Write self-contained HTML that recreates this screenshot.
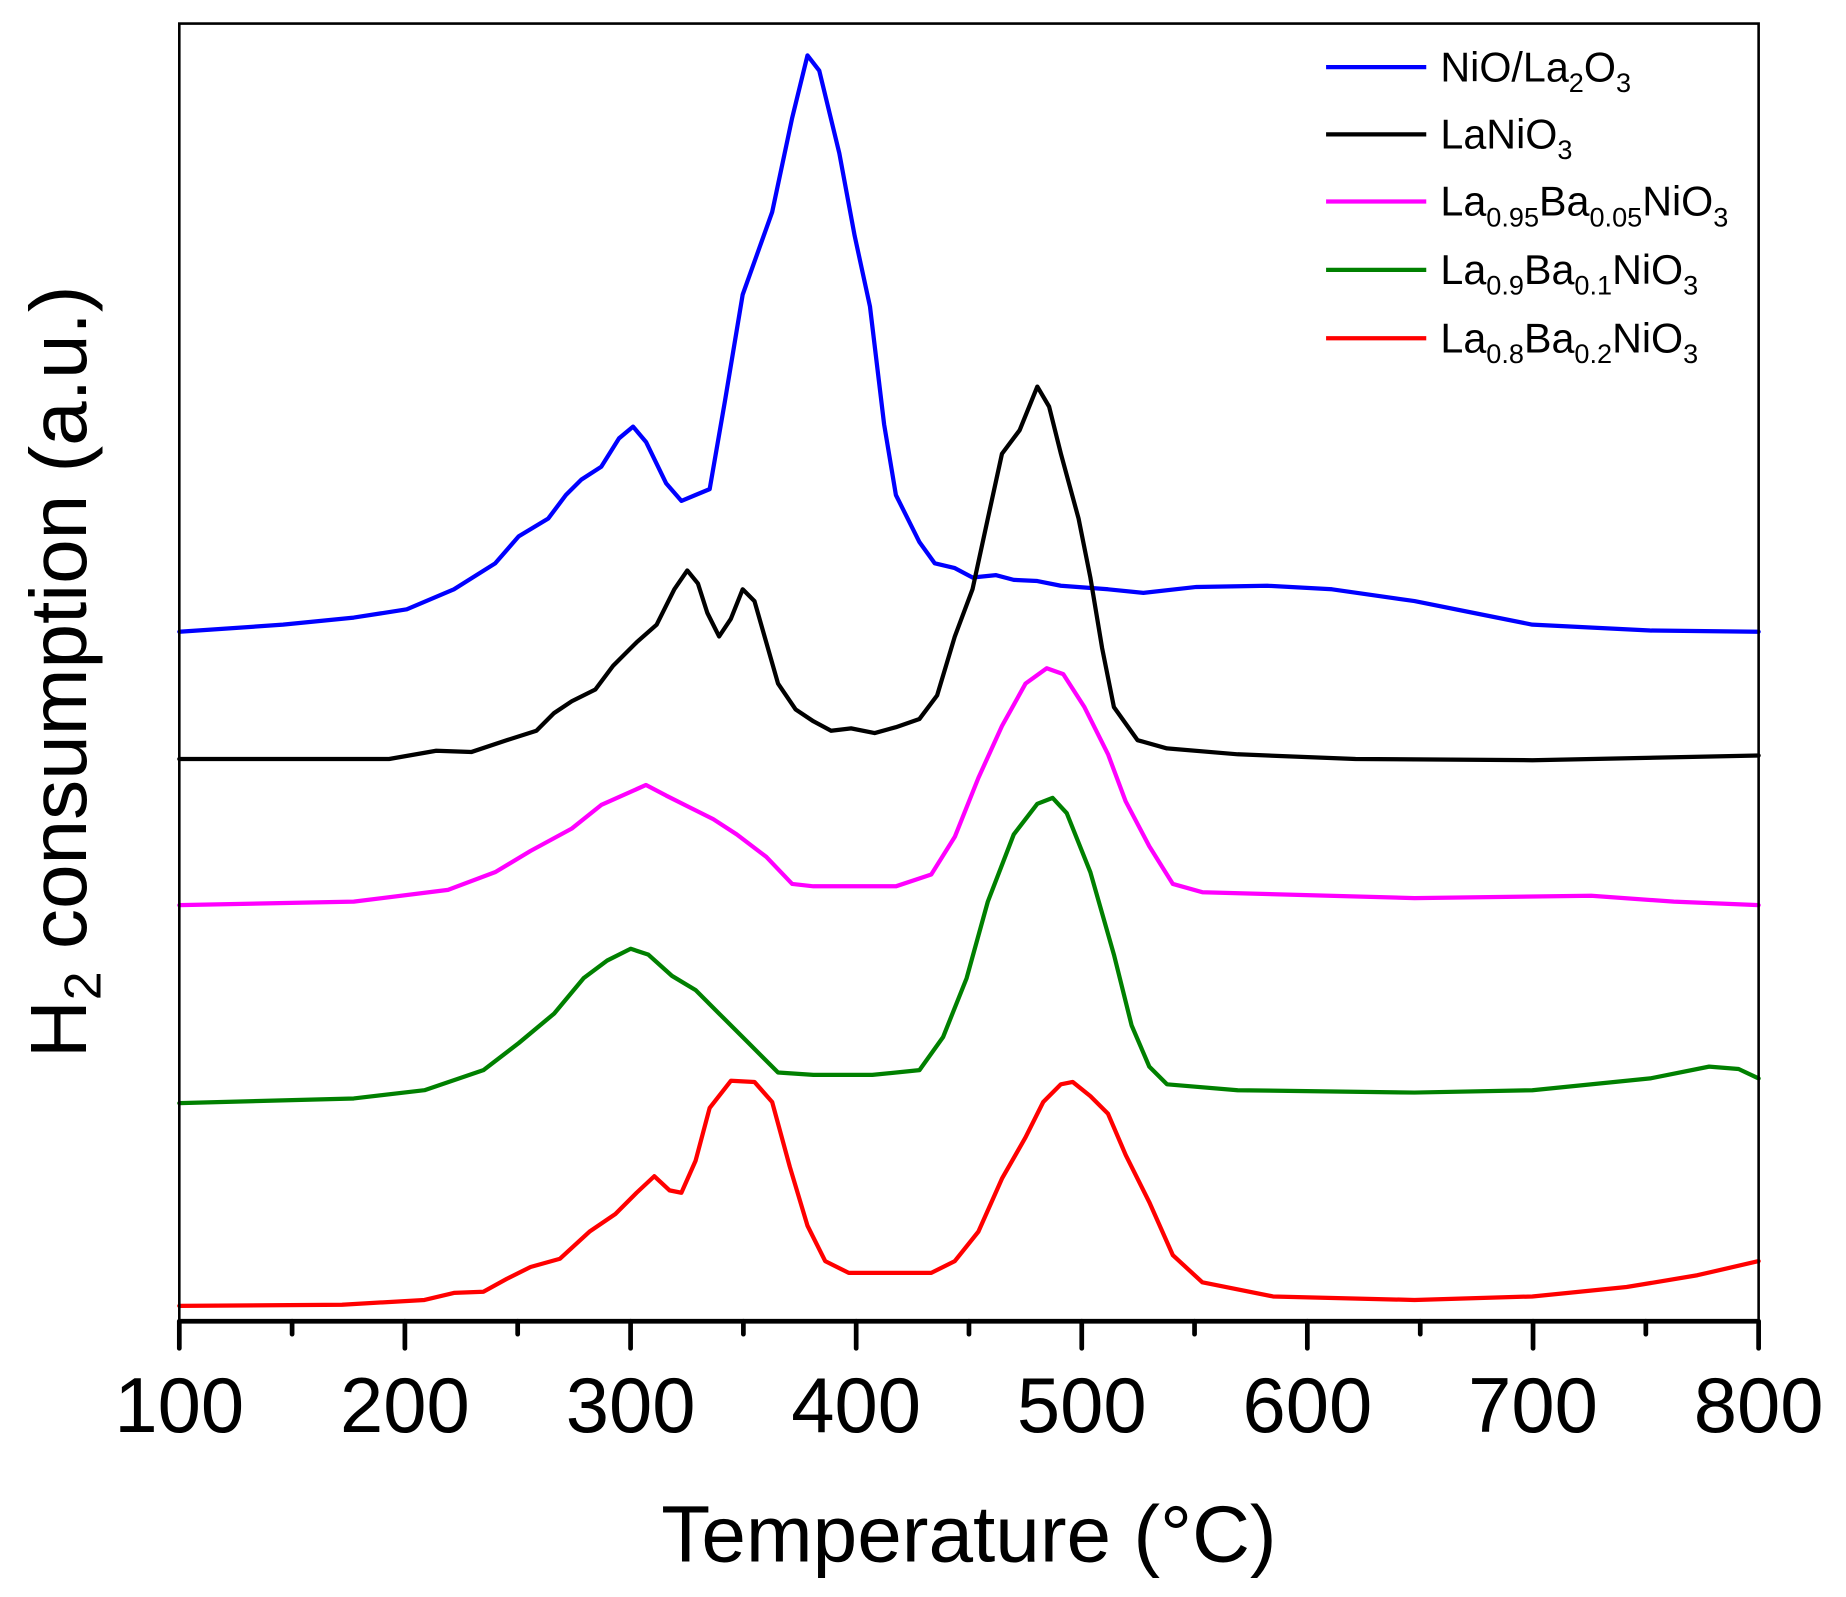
<!DOCTYPE html>
<html><head><meta charset="utf-8"><style>html,body{margin:0;padding:0;background:#fff}svg{display:block}</style></head>
<body>
<svg width="1846" height="1597" viewBox="0 0 1566 1355" xmlns="http://www.w3.org/2000/svg" font-family="Liberation Sans, Arial, sans-serif">
<rect width="1566" height="1355" fill="#fff"/>
<g fill="none" stroke-width="3.6" stroke-linejoin="round" stroke-linecap="round">
<polyline stroke="#0000ff" points="152,536 240,530 300,524 345,517 385,500 420,478 440,455 465,440 480,420 493,407 510,396 525,372 537,362 548,375 565,410 578,425 590,420 602,415 615,340 630,250 655,180 672,100 685,47 695,60 712,130 725,200 738,260 750,360 760,420 780,460 793,478 810,482 825,490 845,488 860,492 880,493 900,497 940,500 970,503 1015,498 1075,497 1130,500 1200,510 1250,520 1300,530 1400,535 1492,536"/>
<polyline stroke="#000000" points="152,644 250,644 330,644 370,637 400,638 430,628 455,620 470,605 485,595 505,585 520,565 540,545 557,530 572,500 583,484 592,495 600,520 610,540 620,525 630,500 640,510 650,545 660,580 675,602 690,612 705,620 722,618 742,622 760,617 780,610 795,590 810,540 825,500 838,440 850,385 865,365 880,328 890,345 900,385 915,440 925,490 935,550 945,600 965,628 990,635 1050,640 1150,644 1300,645 1492,641"/>
<polyline stroke="#ff00ff" points="152,768 300,765 380,755 420,740 450,722 485,703 510,683 548,666 565,675 585,685 605,695 625,708 650,727 672,750 690,752 720,752 760,752 790,742 810,710 830,660 850,616 870,580 888,567 902,572 920,600 940,640 955,680 975,718 995,750 1020,757 1200,762 1350,760 1420,765 1492,768"/>
<polyline stroke="#008000" points="152,936 300,932 360,925 410,908 440,885 470,860 495,830 515,815 535,805 550,810 570,828 590,840 610,860 635,885 660,910 690,912 740,912 780,908 800,880 820,830 838,765 860,708 880,682 893,677 905,690 925,740 945,810 960,870 975,905 990,920 1050,925 1200,927 1300,925 1400,915 1450,905 1475,907 1492,915"/>
<polyline stroke="#ff0000" points="152,1108 290,1107 360,1103 385,1097 410,1096 430,1085 450,1075 475,1068 500,1045 522,1030 540,1012 555,998 568,1010 578,1012 590,985 602,940 620,917 640,918 655,935 670,990 685,1040 700,1070 720,1080 790,1080 810,1070 830,1045 850,1000 870,965 885,935 900,920 910,918 925,930 940,945 955,980 975,1020 995,1065 1020,1088 1080,1100 1200,1103 1300,1100 1380,1092 1440,1082 1492,1070"/>
</g>
<rect x="152" y="20" width="1340" height="1101" fill="none" stroke="#000" stroke-width="2.2"/>
<line x1="152" y1="1121" x2="1492" y2="1121" stroke="#000" stroke-width="4"/>
<g stroke="#000" stroke-width="4" stroke-linecap="round">
<line x1="152" y1="1121" x2="152" y2="1144"/><line x1="343.4" y1="1121" x2="343.4" y2="1144"/><line x1="534.9" y1="1121" x2="534.9" y2="1144"/><line x1="726.3" y1="1121" x2="726.3" y2="1144"/><line x1="917.7" y1="1121" x2="917.7" y2="1144"/><line x1="1109.1" y1="1121" x2="1109.1" y2="1144"/><line x1="1300.6" y1="1121" x2="1300.6" y2="1144"/><line x1="1492" y1="1121" x2="1492" y2="1144"/>
<line x1="247.7" y1="1121" x2="247.7" y2="1132"/><line x1="439.1" y1="1121" x2="439.1" y2="1132"/><line x1="630.6" y1="1121" x2="630.6" y2="1132"/><line x1="822" y1="1121" x2="822" y2="1132"/><line x1="1013.4" y1="1121" x2="1013.4" y2="1132"/><line x1="1204.9" y1="1121" x2="1204.9" y2="1132"/><line x1="1396.3" y1="1121" x2="1396.3" y2="1132"/>
</g>
<g font-size="66" text-anchor="middle" fill="#000">
<text x="152" y="1215">100</text><text x="343.4" y="1215">200</text><text x="534.9" y="1215">300</text><text x="726.3" y="1215">400</text><text x="917.7" y="1215">500</text><text x="1109.1" y="1215">600</text><text x="1300.6" y="1215">700</text><text x="1492" y="1215">800</text>
</g>
<text x="822" y="1325" font-size="68" text-anchor="middle">Temperature (°C)</text>
<text transform="translate(73,570) rotate(-90)" font-size="68" text-anchor="middle">H<tspan font-size="44" dy="12">2</tspan><tspan dy="-12"> consumption (a.u.)</tspan></text>
<g stroke-width="3.6">
<line x1="1125" y1="57" x2="1210" y2="57" stroke="#0000ff"/>
<line x1="1125" y1="114" x2="1210" y2="114" stroke="#000"/>
<line x1="1125" y1="171" x2="1210" y2="171" stroke="#ff00ff"/>
<line x1="1125" y1="229" x2="1210" y2="229" stroke="#008000"/>
<line x1="1125" y1="287" x2="1210" y2="287" stroke="#ff0000"/>
</g>
<g font-size="35" fill="#000">
<text x="1222" y="69">NiO/La<tspan font-size="23" dy="9">2</tspan><tspan dy="-9">O</tspan><tspan font-size="23" dy="9">3</tspan></text>
<text x="1222" y="126">LaNiO<tspan font-size="23" dy="9">3</tspan></text>
<text x="1222" y="183">La<tspan font-size="23" dy="9">0.95</tspan><tspan dy="-9">Ba</tspan><tspan font-size="23" dy="9">0.05</tspan><tspan dy="-9">NiO</tspan><tspan font-size="23" dy="9">3</tspan></text>
<text x="1222" y="241">La<tspan font-size="23" dy="9">0.9</tspan><tspan dy="-9">Ba</tspan><tspan font-size="23" dy="9">0.1</tspan><tspan dy="-9">NiO</tspan><tspan font-size="23" dy="9">3</tspan></text>
<text x="1222" y="299">La<tspan font-size="23" dy="9">0.8</tspan><tspan dy="-9">Ba</tspan><tspan font-size="23" dy="9">0.2</tspan><tspan dy="-9">NiO</tspan><tspan font-size="23" dy="9">3</tspan></text>
</g>
</svg>
</body></html>
